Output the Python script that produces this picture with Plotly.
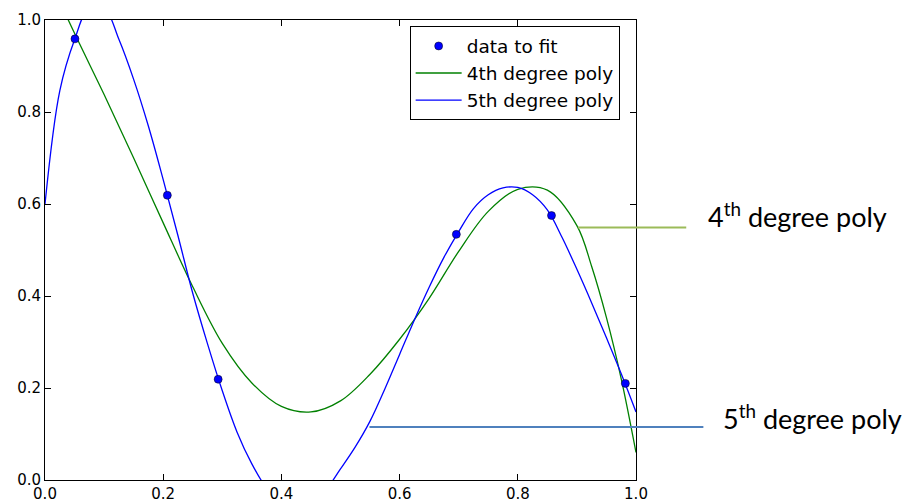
import plotly.graph_objects as go

# ---- data ----
data_x = [0.0507, 0.207, 0.293, 0.696, 0.857, 0.982]
data_y = [0.959, 0.619, 0.219, 0.534, 0.575, 0.210]

poly4_x = [0.0, 0.05, 0.10, 0.15, 0.20, 0.25, 0.30, 0.35, 0.40, 0.45,
           0.50, 0.55, 0.60, 0.65, 0.70, 0.75, 0.80, 0.85, 0.90, 0.925,
           0.95, 0.975, 1.0]
poly4_y = [1.11, 0.971, 0.838, 0.700, 0.559, 0.420, 0.297, 0.211, 0.160, 0.148,
           0.172, 0.230, 0.306, 0.395, 0.497, 0.584, 0.632, 0.630, 0.553, 0.464,
           0.353, 0.220, 0.060]

poly5_x = [0.0, 0.025, 0.05, 0.075, 0.10, 0.125, 0.15, 0.175, 0.20, 0.225,
           0.25, 0.275, 0.30, 0.325, 0.35, 0.375, 0.40, 0.425, 0.45, 0.475,
           0.50, 0.525, 0.55, 0.575, 0.60, 0.625, 0.65, 0.675, 0.70, 0.725,
           0.75, 0.775, 0.80, 0.825, 0.85, 0.875, 0.90, 0.925, 0.95, 0.975, 1.0]
poly5_y = [0.600, 0.846, 0.957, 1.028, 1.027, 0.958, 0.871, 0.769, 0.653, 0.531,
           0.406, 0.296, 0.194, 0.104, 0.035, -0.018, -0.050, -0.062, -0.052, -0.022,
           0.024, 0.072, 0.128, 0.198, 0.273, 0.348, 0.419, 0.484, 0.540, 0.590,
           0.620, 0.635, 0.636, 0.620, 0.587, 0.527, 0.458, 0.385, 0.309, 0.231, 0.148]

tick_vals = [0.0, 0.2, 0.4, 0.6, 0.8, 1.0]
tick_text = ["0.0", "0.2", "0.4", "0.6", "0.8", "1.0"]

legend_names = ["data to fit", "4th degree poly", "5th degree poly"]

# callout annotations (outside the axes, in paper coordinates)
callout4_line = dict(x0=0.9016, x1=1.085, y=0.549)
callout5_line = dict(x0=0.549, x1=1.114, y=0.115)
callout4_text = dict(x=1.118, y=0.576, text="4<sup>th</sup> degree poly")
callout5_text = dict(x=1.144, y=0.137, text="5<sup>th</sup> degree poly")

fig = go.Figure()
fig.add_trace(go.Scatter(
    x=poly4_x, y=poly4_y, mode="lines", name=legend_names[1], legendrank=2,
    line=dict(color="#008000", width=1.3, shape="spline", smoothing=1.0)))
fig.add_trace(go.Scatter(
    x=poly5_x, y=poly5_y, mode="lines", name=legend_names[2], legendrank=3,
    line=dict(color="#0000ff", width=1.3, shape="spline", smoothing=1.0)))
fig.add_trace(go.Scatter(
    x=data_x, y=data_y, mode="markers", name=legend_names[0], legendrank=1,
    marker=dict(color="#0000ff", size=8, line=dict(color="black", width=0.5)),
    cliponaxis=False))

axis_common = dict(
    range=[0, 1], tickvals=tick_vals, ticktext=tick_text,
    ticks="inside", ticklen=6, tickwidth=1, tickcolor="black",
    showline=True, linecolor="black", linewidth=1, mirror="ticks",
    showgrid=False, zeroline=False, automargin=False,
    tickfont=dict(family="DejaVu Sans", size=15, color="black"),
)
fig.update_xaxes(**axis_common)
fig.update_yaxes(**axis_common)

fig.add_shape(type="line", xref="paper", yref="paper",
              x0=callout4_line["x0"], x1=callout4_line["x1"],
              y0=callout4_line["y"], y1=callout4_line["y"],
              line=dict(color="#9BBB59", width=2))
fig.add_shape(type="line", xref="paper", yref="paper",
              x0=callout5_line["x0"], x1=callout5_line["x1"],
              y0=callout5_line["y"], y1=callout5_line["y"],
              line=dict(color="#4F81BD", width=2))
for t in (callout4_text, callout5_text):
    fig.add_annotation(xref="paper", yref="paper", x=t["x"], y=t["y"],
                       text=t["text"], showarrow=False,
                       xanchor="left", yanchor="middle",
                       font=dict(family="Lato", size=27, color="black"))

fig.update_layout(
    width=909, height=502,
    margin=dict(l=45, r=273, t=20, b=22),
    paper_bgcolor="white", plot_bgcolor="white",
    showlegend=True,
    legend=dict(
        x=0.617, y=0.986, xanchor="left", yanchor="top",
        bordercolor="black", borderwidth=1, bgcolor="white",
        font=dict(family="DejaVu Sans", size=18.5, color="black"),
        itemwidth=46,
    ),
)

fig.write_html(
    "out.html",
    config={"displayModeBar": False},
    post_script="document.body.style.margin='0px';document.body.style.overflow='hidden';",
)
